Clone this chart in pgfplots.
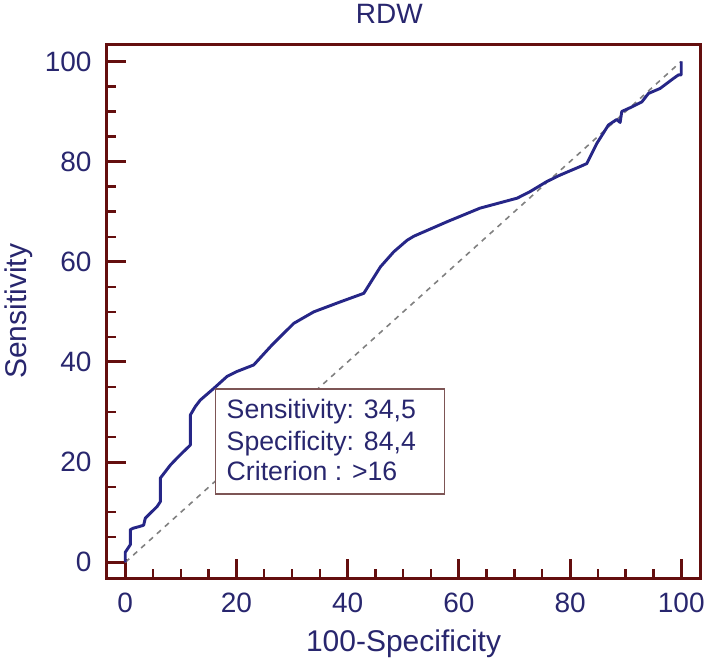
\documentclass[border=0pt]{standalone}
\usepackage{fontspec}
\setmainfont{Liberation Sans}
\usepackage{pgfplots}
\pgfplotsset{compat=1.18}
\definecolor{framec}{RGB}{100,14,14}
\definecolor{navy}{RGB}{40,38,110}
\definecolor{curvec}{RGB}{38,38,135}
\definecolor{boxc}{RGB}{125,85,85}
\begin{document}
\begin{tikzpicture}
\begin{axis}[name=ax, scale only axis, width=446pt, height=400.7pt,
  xmin=-3.4, xmax=103.5, ymin=-3.2, ymax=103.4,
  axis line style={framec, line width=2.4pt},
  xtick={0,20,...,100}, ytick={0,20,...,100},
  minor tick num=3,
  tick align=inside, xtick pos=bottom, ytick pos=left,
  major tick length=14.5pt, minor tick length=7pt,
  every major tick/.append style={framec, line width=2.2pt},
  every minor tick/.append style={framec, line width=1.8pt},
  tick label style={font=\fontsize{21}{25}\selectfont, text=navy},
  /pgf/number format/assume math mode=true,
  xticklabel style={anchor=north, inner sep=0pt, yshift=-11pt},
  yticklabel style={anchor=east, inner sep=0pt, xshift=-11pt},
  xlabel={100-Specificity}, ylabel={Sensitivity},
  label style={font=\fontsize{22.5}{27}\selectfont, text=navy},
  xlabel style={at={(axis description cs:0.5,-0.137)}, anchor=base},
  ylabel style={at={(axis description cs:-0.148,0.5)}, anchor=center},
  title={RDW},
  title style={font=\fontsize{21}{25}\selectfont, text=navy, at={(axis description cs:0.476,1)}, anchor=base, yshift=9.5pt},
]
\addplot[gray, line width=1.2pt, dash pattern=on 4pt off 4pt] coordinates {(0,0) (100,100)};
\addplot[curvec, line width=2.2pt, line join=round] coordinates {
(0,0) (0,2) (0.6,3) (0.9,3.5) (0.9,6.5) (1.4,6.8) (2.4,7.1) (3.3,7.4) (3.6,8.8) (4.5,9.8)
(5.7,11.1) (6.3,12.1) (6.3,16.8) (7.2,18.1) (8.1,19.4) (9.3,20.8) (10.2,21.8) (11.7,23.4)
(11.7,29.4) (12.6,31.1) (13.5,32.4) (15.9,34.7) (18.3,37.1) (20.1,38.1) (23.1,39.4)
(26.4,43.4) (30.3,47.7) (33.9,50.0) (38.7,52.0) (42.9,53.7) (45.9,59.0) (48.3,62.0)
(50.7,64.3) (51.9,65.1) (57.9,68.0) (63.8,70.7) (70.5,72.7) (72.8,74.0) (75.8,76.0)
(78.2,77.3) (81.8,79.0) (83.0,79.6) (84.8,83.6) (86.9,87.3) (88.4,88.4) (89.0,87.8)
(89.3,90.0) (91.1,90.9) (92.9,91.9) (94.1,93.6) (96.2,94.6) (98.6,96.6) (99.5,97.3)
(100,97.3) (100,100)};
\filldraw[fill=white, draw=boxc, line width=1.2pt] (axis cs:16.2,13.6) rectangle (axis cs:57.4,34.6);
\node[anchor=base west, inner sep=0pt, font=\fontsize{20}{24}\selectfont, text=navy] at (axis cs:18.2,28.7) {Sensitivity: 34,5};
\node[anchor=base west, inner sep=0pt, font=\fontsize{20}{24}\selectfont, text=navy] at (axis cs:18.2,22.4) {Specificity: 84,4};
\node[anchor=base west, inner sep=0pt, font=\fontsize{20}{24}\selectfont, text=navy] at (axis cs:18.2,16.4) {Criterion : >16};
\end{axis}
\path ([xshift=-79.5pt,yshift=30.5pt]ax.north west) rectangle ([xshift=6.2pt,yshift=-60pt]ax.south east);
\end{tikzpicture}
\end{document}
